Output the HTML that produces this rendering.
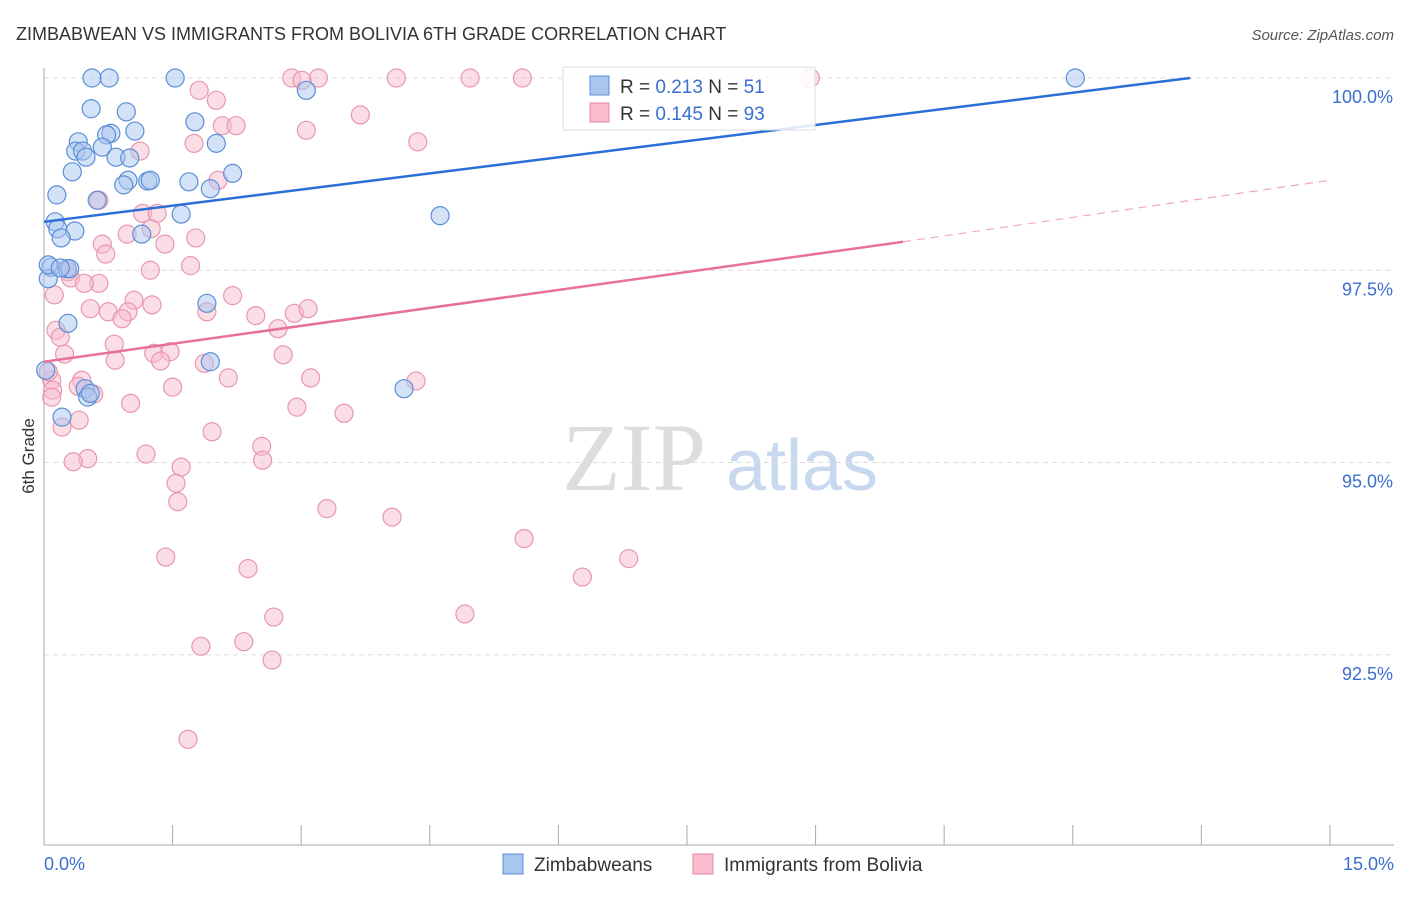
<!DOCTYPE html>
<html><head><meta charset="utf-8"><style>
body{margin:0;background:#fff;font-family:"Liberation Sans",sans-serif;}
</style></head><body>
<svg id="c" width="1406" height="892" xmlns="http://www.w3.org/2000/svg">
<text x="16" y="40" font-size="18" fill="#333">ZIMBABWEAN VS IMMIGRANTS FROM BOLIVIA 6TH GRADE CORRELATION CHART</text>
<text x="1394" y="40" font-size="15" fill="#555" font-style="italic" text-anchor="end">Source: ZipAtlas.com</text>
<text transform="translate(34,456) rotate(-90)" font-size="17" fill="#333" text-anchor="middle">6th Grade</text>
<g><text x="634" y="490" font-size="96" font-family="Liberation Serif,serif" fill="#ddd" text-anchor="middle">ZIP</text><text x="802" y="490" font-size="72" fill="#c8d8ee" text-anchor="middle">atlas</text></g>
<g id="grid"></g><g id="axes"></g><g id="pts"></g><g id="lines"></g>
<g>
<rect x="563" y="67" width="252" height="63" fill="#fff" fill-opacity="0.85" stroke="#ddd"/>
<rect x="590" y="76" width="19" height="19" fill="#a9c6ef" stroke="#5b8fd6"/>
<rect x="590" y="103" width="19" height="19" fill="#f8bccd" stroke="#e486a4"/>
<text x="620" y="93" font-size="19" fill="#333">R = <tspan fill="#3a6fd0">0.213</tspan>   N = <tspan fill="#3a6fd0">51</tspan></text>
<text x="620" y="120" font-size="19" fill="#333">R = <tspan fill="#3a6fd0">0.145</tspan>   N = <tspan fill="#3a6fd0">93</tspan></text>
</g>
<g>
<rect x="503" y="854" width="20" height="20" fill="#a9c6ef" stroke="#5b8fd6"/>
<text x="534" y="871" font-size="19" fill="#333">Zimbabweans</text>
<rect x="693" y="854" width="20" height="20" fill="#f8bccd" stroke="#e486a4"/>
<text x="724" y="871" font-size="19" fill="#333">Immigrants from Bolivia</text>
</g>
</svg>
<script>
const yTicks=[100,97.5,95,92.5];
const yTickLabels=["100.0%","97.5%","95.0%","92.5%"];
const xTickLabels=["0.0%","15.0%"];
const blueX=[0.56,0.76,1.53,3.06,0.55,0.96,1.76,1.06,0.78,0.73,0.40,0.37,0.45,0.49,0.68,0.84,1.00,2.01,2.20,0.33,0.98,0.93,1.21,1.69,1.94,0.15,0.62,1.60,4.62,0.13,0.16,0.36,0.20,1.14,0.08,0.27,0.30,0.05,0.28,1.90,1.94,4.20,0.48,0.51,0.21,0.02,12.03,0.05,0.19,0.54,1.24];
const blueY=[100,100,100,99.84,99.60,99.56,99.43,99.31,99.28,99.26,99.17,99.05,99.05,98.97,99.10,98.97,98.96,99.15,98.76,98.78,98.67,98.61,98.66,98.65,98.56,98.48,98.41,98.23,98.21,98.13,98.04,98.01,97.92,97.97,97.54,97.52,97.52,97.39,96.81,97.07,96.31,95.96,95.96,95.85,95.59,96.20,100,97.57,97.53,95.90,98.67];
const pinkX=[1.81,2.89,3.20,4.11,4.97,5.58,8.94,3.69,3.06,4.36,2.08,1.75,1.12,2.03,0.64,1.15,1.32,1.25,0.97,1.77,0.68,1.41,0.72,1.71,0.28,0.31,0.64,0.47,0.12,2.20,1.05,1.26,0.54,0.98,0.75,0.91,1.90,2.92,3.08,2.47,2.73,0.14,0.19,0.82,0.83,1.28,1.47,1.36,0.24,2.79,1.87,0.09,0.44,0.40,2.15,3.11,4.34,1.50,0.58,1.01,2.95,3.50,0.41,0.21,1.96,2.54,1.19,0.51,0.34,2.55,1.60,1.54,1.56,3.30,4.06,5.60,1.42,2.38,6.28,6.82,2.68,4.91,1.83,2.33,2.66,1.68,0.10,0.05,0.09,3.01,2.01,2.24,1.24];
const pinkY=[99.84,100,100,100,100,100,100,99.52,99.32,99.17,99.38,99.15,99.05,98.67,98.41,98.24,98.24,98.04,97.97,97.92,97.84,97.84,97.71,97.56,97.48,97.40,97.33,97.33,97.18,97.17,97.11,97.05,97.00,96.96,96.96,96.87,96.96,96.94,97.00,96.91,96.74,96.72,96.63,96.54,96.33,96.42,96.44,96.32,96.41,96.40,96.29,96.07,96.07,95.99,96.10,96.10,96.06,95.98,95.89,95.77,95.72,95.64,95.55,95.46,95.40,95.21,95.11,95.05,95.01,95.03,94.94,94.73,94.49,94.40,94.29,94.01,93.77,93.62,93.51,93.75,92.99,93.03,92.61,92.67,92.43,91.40,95.94,96.18,95.85,99.97,99.71,99.38,97.50];
const blueLine=[[0,98.13],[13.37,100]];
const pinkLine=[[0,96.31],[10.02,97.87]];
const pinkDash=[[10.02,97.87],[15,98.67]];
const NS="http://www.w3.org/2000/svg";
const xs=v=>44+v*85.73, ys=v=>78+(100-v)*76.9;
function mk(t,a,p){const e=document.createElementNS(NS,t);for(const k in a)e.setAttribute(k,a[k]);document.getElementById(p).appendChild(e);return e;}
yTicks.forEach((v,i)=>{
 const g=mk('line',{x1:44,x2:1394,y1:ys(v),y2:ys(v),stroke:'#ddd','stroke-dasharray':'5,4'},'grid');
 
 
 const t=mk('text',{x:1393,y:ys(v)+25,'font-size':18,fill:'#3a6fd0','text-anchor':'end'},'axes');t.textContent=yTickLabels[i];
 
 
});
let a=mk('line',{x1:44,x2:44,y1:68,y2:845,stroke:'#aaa'},'axes');


a=mk('line',{x1:44,x2:1394,y1:845,y2:845,stroke:'#aaa'},'axes');


for(let i=0;i<=10;i++){const t=mk('line',{x1:xs(i*1.5),x2:xs(i*1.5),y1:825,y2:845,stroke:'#aaa'},'axes');
 
 }
let t=mk('text',{x:44,y:870,'font-size':18,fill:'#3a6fd0'},'axes');t.textContent=xTickLabels[0];


t=mk('text',{x:1394,y:870,'font-size':18,fill:'#3a6fd0','text-anchor':'end'},'axes');t.textContent=xTickLabels[1];


pinkX.forEach((v,i)=>{const c=mk('circle',{cx:xs(v),cy:ys(pinkY[i]),r:9,fill:'#f8bccd','fill-opacity':0.5,stroke:'#e897b0','stroke-width':1.2},'pts');
 
 });
blueX.forEach((v,i)=>{const c=mk('circle',{cx:xs(v),cy:ys(blueY[i]),r:9,fill:'#a9c6ef','fill-opacity':0.5,stroke:'#5b8fd6','stroke-width':1.2},'pts');
 
 });
function ln(p,col,w,d,name){const l=mk('line',{x1:xs(p[0][0]),y1:ys(p[0][1]),x2:xs(p[1][0]),y2:ys(p[1][1]),stroke:col,'stroke-width':w,'stroke-dasharray':d},'lines');
 
 }
ln(blueLine,'#2b6fd6',2.5,'none','trend-zimbabweans');
ln(pinkLine,'#e8719a',2.5,'none','trend-bolivia');
ln(pinkDash,'#f0a8c0',1.2,'8,6','trend-bolivia-extension');
</script>
</body></html>
